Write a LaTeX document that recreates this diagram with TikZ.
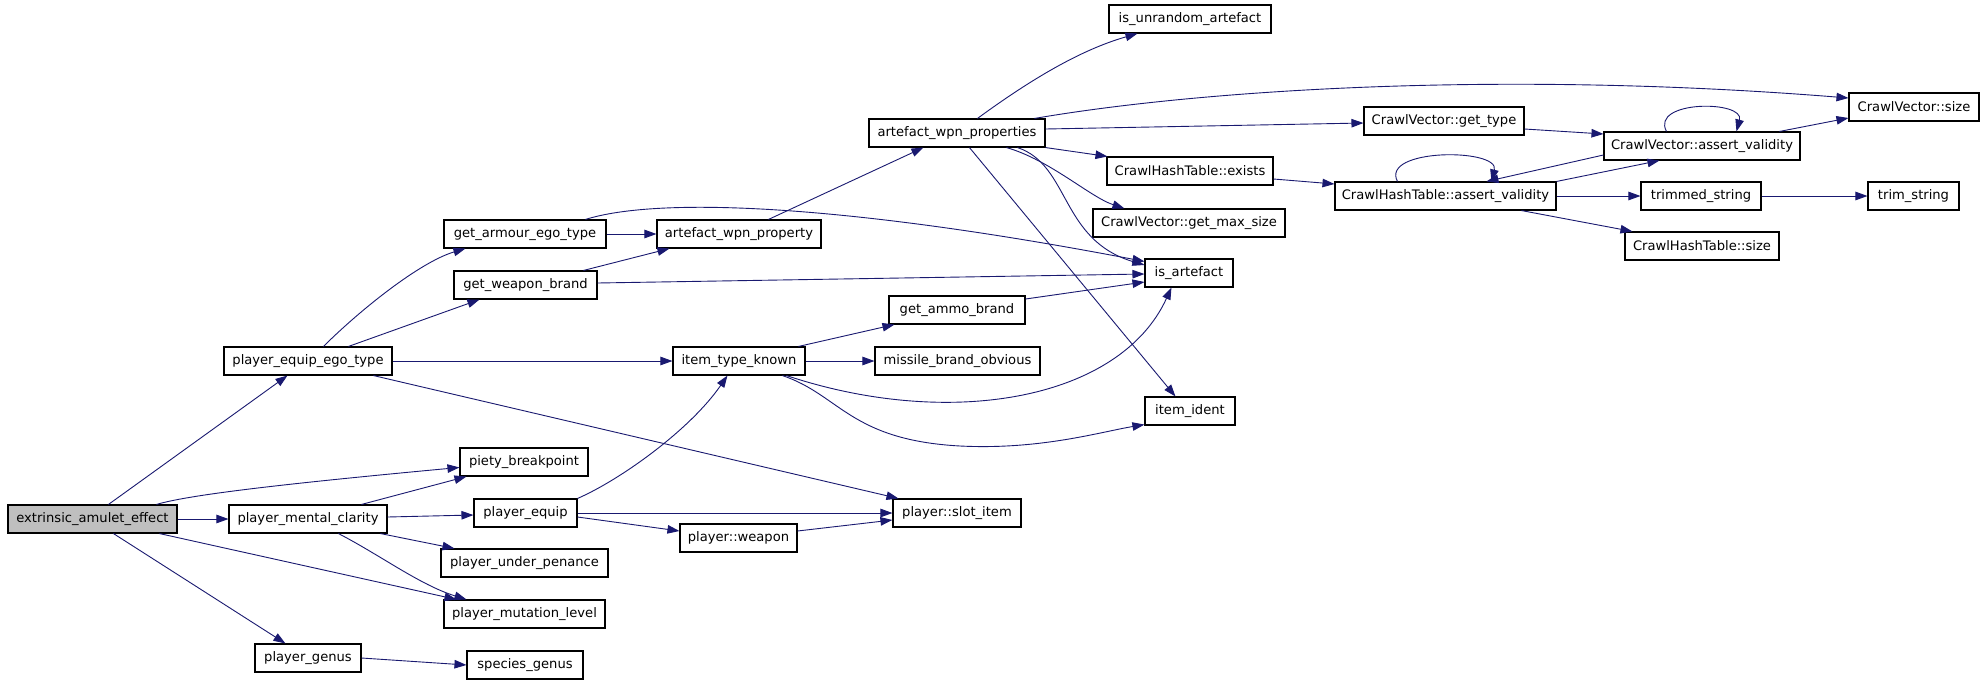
\documentclass[tikz,border=0pt]{standalone}
\usepackage{fontspec}
\setmainfont{DejaVu Sans}
\usetikzlibrary{arrows.meta}
\definecolor{edgeblue}{HTML}{191970}
\definecolor{rootgray}{HTML}{BFBFBF}
\tikzset{
  fbox/.style={draw=black, fill=white, line width=1.1pt, minimum height=28pt, inner sep=0pt,
    font=\fontsize{13.1pt}{15pt}\selectfont, anchor=center},
  rootbox/.style={fbox, fill=rootgray},
  calls/.style={draw=edgeblue, line width=0.9pt, -{Triangle[length=12pt,width=8.5pt]}, edgeblue}
}
\begin{document}
\begin{tikzpicture}[x=1pt,y=-1pt]
\fill[white] (0,0) rectangle (1984,683);
\useasboundingbox (0,0) rectangle (1984,683);
% column 1
\node[rootbox, minimum width=169pt] (extr) at (92.5,519) {extrinsic\_amulet\_effect};
% column 2
\node[fbox, minimum width=168pt] (peet) at (308,361) {player\_equip\_ego\_type};
\node[fbox, minimum width=158pt] (pmc) at (308,519) {player\_mental\_clarity};
\node[fbox, minimum width=106pt] (pgenus) at (308,658) {player\_genus};
% column 3
\node[fbox, minimum width=162pt] (gaet) at (525,234) {get\_armour\_ego\_type};
\node[fbox, minimum width=143pt] (gwb) at (525.5,285) {get\_weapon\_brand};
\node[fbox, minimum width=128pt] (piety) at (524,462) {piety\_breakpoint};
\node[fbox, minimum width=103pt] (pequip) at (525.5,513) {player\_equip};
\node[fbox, minimum width=167pt] (penance) at (524.5,563) {player\_under\_penance};
\node[fbox, minimum width=161pt] (pml) at (524.5,614) {player\_mutation\_level};
\node[fbox, minimum width=116pt] (species) at (525,665) {species\_genus};
% column 4
\node[fbox, minimum width=164pt] (awp) at (739,234) {artefact\_wpn\_property};
\node[fbox, minimum width=132pt] (itk) at (739,361) {item\_type\_known};
\node[fbox, minimum width=117pt] (pweapon) at (738.5,538) {player::weapon};
% column 5
\node[fbox, minimum width=176pt] (awps) at (957,133) {artefact\_wpn\_properties};
\node[fbox, minimum width=136pt] (ammo) at (957,310) {get\_ammo\_brand};
\node[fbox, minimum width=165pt] (missile) at (957.5,361) {missile\_brand\_obvious};
\node[fbox, minimum width=128pt] (slot) at (957,513) {player::slot\_item};
% column 6
\node[fbox, minimum width=162pt] (unrand) at (1190,19) {is\_unrandom\_artefact};
\node[fbox, minimum width=166pt] (chtex) at (1190,171) {CrawlHashTable::exists};
\node[fbox, minimum width=192pt] (cvgms) at (1189,223) {CrawlVector::get\_max\_size};
\node[fbox, minimum width=88pt] (isart) at (1189,273) {is\_artefact};
\node[fbox, minimum width=90pt] (ident) at (1190,411) {item\_ident};
% column 7
\node[fbox, minimum width=160pt] (cvgt) at (1444,121) {CrawlVector::get\_type};
\node[fbox, minimum width=221pt] (chtav) at (1445.5,196) {CrawlHashTable::assert\_validity};
% column 8
\node[fbox, minimum width=196pt] (cvav) at (1702,146) {CrawlVector::assert\_validity};
\node[fbox, minimum width=120pt] (trimmed) at (1701,196) {trimmed\_string};
\node[fbox, minimum width=154pt] (chtsize) at (1702,246) {CrawlHashTable::size};
% column 9
\node[fbox, minimum width=130pt] (cvsize) at (1914,107) {CrawlVector::size};
\node[fbox, minimum width=91pt] (trim) at (1913.5,196) {trim\_string};

% edges from extrinsic_amulet_effect
\draw[calls] ([xshift=101pt]extr.north west) -- ([xshift=64pt]peet.south west);
\draw[calls] ([xshift=149pt]extr.north west) .. controls (185,496) and (260,486) .. ([yshift=-20pt]piety.north west);
\draw[calls] (extr) -- (pmc);
\draw[calls] ([xshift=152pt]extr.south west) -- ([xshift=13pt]pml.north west);
\draw[calls] ([xshift=106pt]extr.south west) -- ([xshift=31pt]pgenus.north west);
% player_equip_ego_type
\draw[calls] ([xshift=100pt]peet.north west) .. controls (360,310) and (420,262) .. ([xshift=22pt]gaet.south west);
\draw[calls] ([xshift=125pt]peet.north west) -- ([xshift=26pt]gwb.south west);
\draw[calls] (peet) -- (itk);
\draw[calls] ([xshift=150pt]peet.south west) -- ([xshift=6pt]slot.north west);
% player_mental_clarity
\draw[calls] ([xshift=133pt]pmc.north west) -- ([xshift=7pt]piety.south west);
\draw[calls] ([yshift=2pt]pmc.east) -- ([yshift=-2pt]pequip.west);
\draw[calls] ([xshift=152pt]pmc.south west) -- ([xshift=14pt]penance.north west);
\draw[calls] ([xshift=110pt]pmc.south west) .. controls (380,555) and (420,585) .. ([xshift=23pt]pml.north west);
% player_genus
\draw[calls] (pgenus.east) -- (species.west);
% get_armour_ego_type
\draw[calls] (gaet) -- (awp);
\draw[calls] ([xshift=142pt]gaet.north west) .. controls (660,196) and (850,205) .. ([yshift=-3pt]isart.north west);
% get_weapon_brand
\draw[calls] ([xshift=130pt]gwb.north west) -- ([xshift=13pt]awp.south west);
\draw[calls] ([yshift=2pt]gwb.east) -- ([yshift=-1pt]isart.west);
% artefact_wpn_property
\draw[calls] ([xshift=112pt]awp.north west) -- ([xshift=55pt]awps.south west);
% artefact_wpn_properties
\draw[calls] ([xshift=109pt]awps.north west) .. controls (1030,80) and (1080,50) .. ([xshift=29pt]unrand.south west);
\draw[calls] ([xshift=166pt]awps.north west) .. controls (1200,90) and (1500,70) .. ([yshift=9pt]cvsize.west);
\draw[calls] ([yshift=4pt]awps.east) -- ([yshift=-2pt]cvgt.west);
\draw[calls] (awps.south east) -- ([xshift=1pt]chtex.north west);
\draw[calls] ([xshift=138pt]awps.south west) .. controls (1050,160) and (1090,197) .. ([xshift=32pt]cvgms.north west);
\draw[calls] ([xshift=149pt]awps.south west) .. controls (1070,165) and (1060,240) .. ([yshift=8pt]isart.west);
\draw[calls] ([xshift=101pt]awps.south west) -- ([xshift=31pt]ident.north west);
% item_type_known
\draw[calls] ([xshift=126pt]itk.north west) -- ([xshift=6pt]ammo.south west);
\draw[calls] (itk) -- (missile);
\draw[calls] ([xshift=114pt]itk.south west) .. controls (950,430) and (1120,400) .. ([xshift=27pt]isart.south west);
\draw[calls] ([xshift=110pt]itk.south west) .. controls (840,395) and (850,440) .. (960,446)
   .. controls (1040,450) and (1100,432) .. ([yshift=1pt]ident.south west);
% get_ammo_brand
\draw[calls] ([yshift=11pt]ammo.east) -- ([yshift=-9pt]isart.west);
% player_equip
\draw[calls] (pequip.north east) .. controls (620,480) and (690,430) .. ([xshift=55pt]itk.south west);
\draw[calls] (pequip) -- (slot);
\draw[calls] ([yshift=-4pt]pequip.east) -- ([yshift=7pt]pweapon.west);
% player::weapon
\draw[calls] ([yshift=7pt]pweapon.east) -- ([yshift=-7pt]slot.west);
% CrawlVector::get_type
\draw[calls] ([yshift=-8pt]cvgt.east) -- ([yshift=12pt]cvav.west);
% CrawlVector::assert_validity
\draw[calls] ([xshift=63pt]cvav.north west) .. controls (1650,100) and (1745,100) .. ([xshift=133pt]cvav.north west);
\draw[calls] ([xshift=176pt]cvav.north west) -- ([yshift=-11pt]cvsize.west);
\draw[calls] ([yshift=-9pt]cvav.west) -- ([xshift=152pt]chtav.north west);
% CrawlHashTable::exists
\draw[calls] ([yshift=-8pt]chtex.east) -- ([yshift=12pt]chtav.west);
% CrawlHashTable::assert_validity
\draw[calls] ([xshift=63pt]chtav.north west) .. controls (1380,148) and (1500,148) .. ([xshift=157pt]chtav.north west);
\draw[calls] (chtav.north east) -- ([xshift=56pt]cvav.south west);
\draw[calls] (chtav) -- (trimmed);
\draw[calls] ([xshift=187pt]chtav.south west) -- ([xshift=8pt]chtsize.north west);
% trimmed_string
\draw[calls] (trimmed) -- (trim);
\end{tikzpicture}
\end{document}
